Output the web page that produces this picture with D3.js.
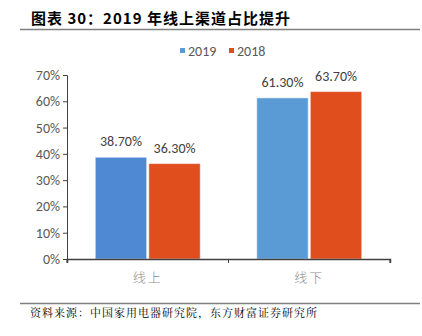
<!DOCTYPE html>
<html>
<head>
<meta charset="utf-8">
<script src="https://cdn.jsdelivr.net/npm/d3@7"></script>
<style>
  html, body { margin: 0; padding: 0; background: #fff; }
  svg { display: block; }
</style>
</head>
<body>
<svg id="chart" width="422" height="336"></svg>
<script>
// Online vs offline channel share, 2019 vs 2018
const categories = ["线上", "线下"];
const seriesNames = ["2019", "2018"];
const values2019 = [38.7, 61.3];
const values2018 = [36.3, 63.7];
const yTicks = [0, 10, 20, 30, 40, 50, 60, 70];
const blueFills = ["#4F89D3", "#5B9BD5"];
const orangeFill = "#E04E1D";

const svg = d3.select("#chart");
const cjk = "'Noto Sans CJK SC', 'Noto Sans', sans-serif";
const latin = "Calibri, Carlito, 'Liberation Sans', 'Noto Sans', sans-serif";

// Title and rule
svg.append("text")
  .attr("x", 31).attr("y", 24)
  .attr("font-family", cjk).attr("font-size", 15).attr("font-weight", "bold")
  .attr("letter-spacing", 1)
  .attr("fill", "#000")
  .text("图表 30：2019 年线上渠道占比提升");
svg.append("line")
  .attr("x1", 20).attr("x2", 420).attr("y1", 29.5).attr("y2", 29.5)
  .attr("stroke", "#808080").attr("stroke-width", 1.5);

// Scales
const x0 = d3.scaleBand().domain(categories).range([67, 390]).paddingInner(0).paddingOuter(0);
const x1 = d3.scaleBand().domain(seriesNames).range([0, x0.bandwidth() * 0.65]).paddingInner(0.04);
const groupOffset = x0.bandwidth() * 0.175;
const y = d3.scaleLinear().domain([0, 70]).range([259, 75]);

// Y axis
const yAxis = d3.axisLeft(y).tickValues(yTicks).tickFormat(d => d + "%").tickSize(4).tickPadding(3);
const gy = svg.append("g").attr("transform", "translate(67,0)").call(yAxis);
gy.select(".domain").attr("stroke", "#404040").attr("stroke-width", 1);
gy.selectAll(".tick line").attr("stroke", "#404040");
gy.selectAll(".tick text")
  .attr("font-family", latin).attr("font-size", 14).attr("fill", "#595959");

// Bars
const rows = categories.map((c, i) => ({
  cat: c,
  items: [
    { s: "2019", v: values2019[i], fill: blueFills[i] },
    { s: "2018", v: values2018[i], fill: orangeFill }
  ]
}));

const groups = svg.selectAll("g.grp").data(rows).join("g")
  .attr("class", "grp")
  .attr("transform", d => `translate(${x0(d.cat) + groupOffset},0)`);

groups.selectAll("rect").data(d => d.items).join("rect")
  .attr("x", d => x1(d.s))
  .attr("width", x1.bandwidth())
  .attr("y", d => y(d.v))
  .attr("height", d => y(0) - y(d.v))
  .attr("fill", d => d.fill)
  .attr("stroke", "#ffffff").attr("stroke-opacity", 0.5).attr("stroke-width", 1);

groups.selectAll("text").data(d => d.items).join("text")
  .attr("x", d => x1(d.s) + x1.bandwidth() / 2)
  .attr("y", d => y(d.v) - 11)
  .attr("text-anchor", "middle")
  .attr("font-family", latin).attr("font-size", 14).attr("fill", "#404040")
  .text(d => d.v.toFixed(2) + "%");

// X axis
const xAxis = d3.axisBottom(x0).tickSize(4).tickFormat("");
const gx = svg.append("g").attr("transform", `translate(0,${y(0)})`).call(xAxis);
gx.select(".domain").attr("stroke", "#404040").attr("stroke-width", 1.5);
gx.selectAll(".tick").remove();
[67, 228.5, 390].forEach(v => {
  gx.append("line").attr("x1", v).attr("x2", v).attr("y1", 0).attr("y2", 4)
    .attr("stroke", "#404040").attr("stroke-width", 1);
});
svg.append("g").selectAll("text").data(categories).join("text")
  .attr("x", d => x0(d) + x0.bandwidth() / 2)
  .attr("y", 282)
  .attr("text-anchor", "middle")
  .attr("font-family", cjk).attr("font-size", 13).attr("font-weight", 300).attr("fill", "#8c8c8c")
  .attr("letter-spacing", 2)
  .text(d => d);

// Legend
const legend = [
  { name: "2019", fill: "#5B9BD5", x: 180 },
  { name: "2018", fill: orangeFill, x: 229 }
];
const lg = svg.append("g").selectAll("g").data(legend).join("g")
  .attr("transform", d => `translate(${d.x},0)`);
lg.append("rect").attr("x", 0).attr("y", 48).attr("width", 5).attr("height", 5).attr("fill", d => d.fill);
lg.append("text").attr("x", 8).attr("y", 55.5)
  .attr("font-family", latin).attr("font-size", 14).attr("fill", "#595959")
  .text(d => d.name);

// Source rule and note
svg.append("line")
  .attr("x1", 20).attr("x2", 420).attr("y1", 303.5).attr("y2", 303.5)
  .attr("stroke", "#808080").attr("stroke-width", 1.5);
svg.append("text")
  .attr("x", 30).attr("y", 317)
  .attr("font-family", "'Noto Serif CJK SC', 'Noto Sans CJK SC', serif").attr("font-size", 11)
  .attr("letter-spacing", 1)
  .attr("fill", "#000")
  .text("资料来源：中国家用电器研究院，东方财富证券研究所");
</script>
</body>
</html>
